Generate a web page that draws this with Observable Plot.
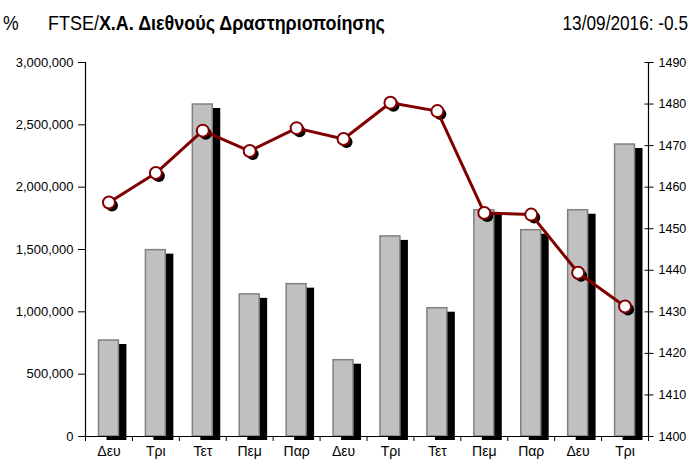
<!DOCTYPE html>
<html>
<head>
<meta charset="utf-8">
<script src="https://cdn.jsdelivr.net/npm/d3@7"></script>
<script src="https://cdn.jsdelivr.net/npm/@observablehq/plot@0.6"></script>
<style>
  html, body { margin: 0; padding: 0; background: #fff; }
  #title { position: relative; width: 692px; height: 40px; font-family: "Liberation Sans Narrow", "Arial Narrow", "Liberation Sans", sans-serif; font-size: 21px; line-height: 21px; color: #000; overflow: hidden; }
  #title span { position: absolute; top: 12px; white-space: nowrap; }
  #chart svg { display: block; }
</style>
</head>
<body>
<div id="title">
  <span style="left:3px; transform: scaleX(0.84); transform-origin: left">%</span>
  <span style="left:48px; transform: scaleX(0.855); transform-origin: left">FTSE/<b>Χ.Α. Διεθνούς Δραστηριοποίησης</b></span>
  <span style="right:4px; transform: scaleX(0.82); transform-origin: right">13/09/2016: -0.5</span>
</div>
<div id="chart"></div>
<script>
const days = ["Δευ","Τρι","Τετ","Πεμ","Παρ","Δευ","Τρι","Τετ","Πεμ","Παρ","Δευ","Τρι"];
const volume = [770000,1495000,2663000,1140000,1222000,612000,1605000,1029000,1815000,1655000,1815000,2342000];
const indexValues = [1456.3,1463.4,1473.6,1468.7,1474.2,1471.6,1480.3,1478.3,1453.8,1453.4,1439.4,1431.3];
const leftTicks = [0,500000,1000000,1500000,2000000,2500000,3000000];
const rightTicks = [1400,1410,1420,1430,1440,1450,1460,1470,1480,1490];

const leftMax = 3000000, rMin = 1400, rMax = 1490;
const toLeft = v => (v - rMin) / (rMax - rMin) * leftMax;
const fromLeft = v => String(Math.round(rMin + v / leftMax * (rMax - rMin)));

const data = days.map((d, i) => ({i, day: d, vol: volume[i], idx: indexValues[i]}));
const inset = 13.5;
const font = "Liberation Sans, Arial, sans-serif";

const chart = Plot.plot({
  width: 692,
  height: 426,
  marginLeft: 85,
  marginRight: 44,
  marginTop: 22,
  marginBottom: 30,
  style: {fontFamily: font, fontSize: "13px", color: "#000", background: "#fff"},
  x: {type: "linear", domain: [0, 12], axis: null},
  y: {domain: [0, leftMax], axis: null},
  marks: [
    Plot.rectY(data, {x1: d => d.i, x2: d => d.i + 1, y: "vol", insetLeft: inset, insetRight: inset, fill: "#000", dx: 8, dy: 4}),
    Plot.rectY(data, {x1: d => d.i, x2: d => d.i + 1, y: "vol", insetLeft: inset, insetRight: inset, fill: "#C0C0C0", stroke: "#808080", strokeWidth: 1.5}),
    Plot.ruleY([0], {stroke: "#000", strokeWidth: 1.2}),
    Plot.ruleX([0], {stroke: "#000", strokeWidth: 1.2}),
    Plot.ruleX([12], {stroke: "#000", strokeWidth: 1.2}),
    Plot.axisY({anchor: "left", label: null, ticks: leftTicks, tickFormat: d3.format(","), tickSize: 7, tickPadding: 5, fontSize: 13, stroke: "#000"}),
    Plot.axisY({anchor: "right", label: null, ticks: rightTicks.map(toLeft), tickFormat: () => "", tickSize: 9, dx: -4.5, stroke: "#000"}),
    Plot.axisY({anchor: "right", label: null, ticks: rightTicks.map(toLeft), tickFormat: fromLeft, tickSize: 5, tickPadding: 5, fontSize: 12.5, stroke: "none"}),
    Plot.axisX({anchor: "bottom", label: null, ticks: d3.range(0, 13), tickFormat: () => "", tickSize: 5, stroke: "#000"}),
    Plot.axisX({anchor: "bottom", label: null, ticks: d3.range(12).map(i => i + 0.5), tickFormat: d => days[Math.floor(d)], tickSize: 0, tickPadding: 10, fontSize: 14}),
    Plot.dot(data, {x: d => d.i + 0.5, y: d => toLeft(d.idx), r: 6, fill: "#000", dx: 3, dy: 3}),
    Plot.line(data, {x: d => d.i + 0.5, y: d => toLeft(d.idx), stroke: "#800000", strokeWidth: 3}),
    Plot.dot(data, {x: d => d.i + 0.5, y: d => toLeft(d.idx), r: 6, fill: "#fff", stroke: "#800000", strokeWidth: 2})
  ]
});
document.getElementById("chart").appendChild(chart);
</script>
</body>
</html>
